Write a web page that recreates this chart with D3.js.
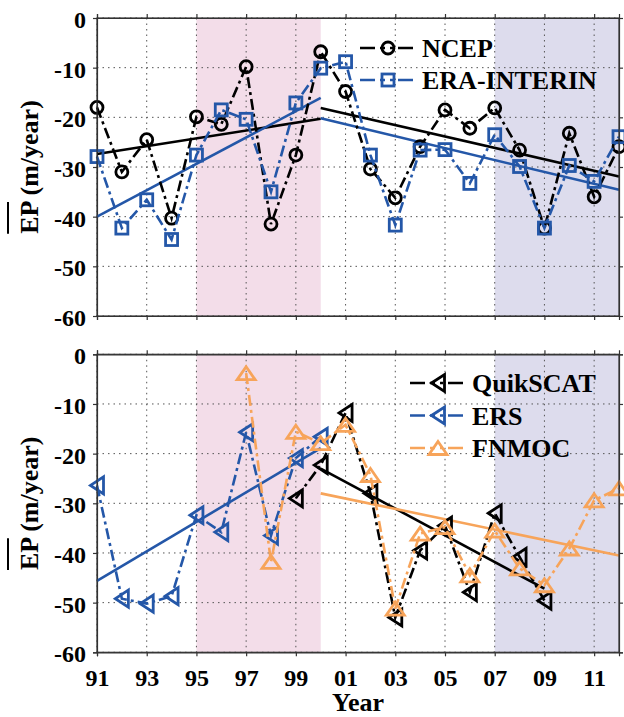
<!DOCTYPE html>
<html>
<head>
<meta charset="utf-8">
<script src="https://cdnjs.cloudflare.com/ajax/libs/d3/7.8.5/d3.min.js"></script>
<style>
  body { margin: 0; background: #fff; }
</style>
</head>
<body>
<div id="chart-area"></div>
<script>
//============================DATA============================
// years for each series
var yearsFull = [1991, 1992, 1993, 1994, 1995, 1996, 1997, 1998, 1999, 2000, 2001,
                 2002, 2003, 2004, 2005, 2006, 2007, 2008, 2009, 2010, 2011, 2012];
var yearsErs = [1991, 1992, 1993, 1994, 1995, 1996, 1997, 1998, 1999, 2000];
var yearsQuik = [1999, 2000, 2001, 2002, 2003, 2004, 2005, 2006, 2007, 2008, 2009];
var yearsFnmoc = [1997, 1998, 1999, 2000, 2001, 2002, 2003, 2004, 2005, 2006, 2007,
                  2008, 2009, 2010, 2011, 2012];

// top panel
var ncep = [-18, -31, -24.5, -40.3, -19.9, -21.4, -9.8, -41.5, -27.6, -6.8, -14.8,
            -30.4, -36.2, -25.9, -18.5, -22.2, -18.1, -26.6, -42.3, -23.2, -36, -25.9];
var era = [-27.9, -42.3, -36.6, -44.6, -27.6, -18.5, -20.4, -35, -17.1, -10.1, -8.8,
           -27.6, -41.7, -26.6, -26.5, -33.3, -23.5, -29.9, -42.3, -29.7, -32.9, -23.9];

// bottom panel
var ers = [-26.4, -49.2, -50.2, -48.7, -32.4, -35.8, -15.7, -36.5, -20.9, -16.6];
var quikscat = [-29, -22.3, -11.8, -28, -53, -39.5, -34.5, -47.9, -32, -40.8, -49.6];
var fnmoc = [-3.8, -41.8, -15.6, -17.9, -14.2, -24.3, -51.2, -36.1, -34.8, -44.5, -35.5,
             -43.1, -46.5, -39.1, -29.4, -27];

// linear trend end points
var ncepTrendA = [[1991, -27.4], [2000, -20.3]];
var ncepTrendB = [[2000, -18.1], [2012, -31.9]];
var eraTrendA = [[1991, -40], [2000, -16.1]];
var eraTrendB = [[2000, -20.2], [2012, -34.6]];
var ersTrend = [[1991, -45.6], [2000, -18.9]];
var quikTrend = [[2000, -23], [2009, -47.2]];
var fnmocTrend = [[2000, -28], [2012, -40.5]];

// shaded periods
var periods = [[1995, 2000], [2007, 2012]];

// ticks
var xTicks = [1991, 1993, 1995, 1997, 1999, 2001, 2003, 2005, 2007, 2009, 2011];
var xTickLabels = ["91", "93", "95", "97", "99", "01", "03", "05", "07", "09", "11"];
var yTicks = [0, -10, -20, -30, -40, -50, -60];

//============================GLOBALS============================
var W = 624, H = 717;
var margins = { left: 97, right: 5 };
var width = 619 - margins.left;
var panelTop = [18, 354.3];
var panelHeight = 298;
var FONT = "'Liberation Serif', 'Times New Roman', serif";

var BLACK = "#000000", BLUE = "#2457a8", ORANGE = "#f7a45a";
var shadeColors = ["#f3dde9", "#dddced"];
var dashDot = "11,4,3,4";

var svg = d3.select("#chart-area")
    .append("svg")
    .attr("width", W)
    .attr("height", H);

var x = d3.scaleLinear().domain([1991, 2012]).range([margins.left, margins.left + width]);

// marker shapes
function drawMarker(sel, type, color) {
    if (type === "circle") {
        sel.append("circle").attr("r", 6);
    } else if (type === "square") {
        sel.append("rect").attr("x", -6).attr("y", -6).attr("width", 12).attr("height", 12);
    } else if (type === "left") {
        sel.append("path").attr("d", "M-6.5,0L6.5,-8.5L6.5,8.5Z");
    } else if (type === "up") {
        sel.append("path").attr("d", "M0,-6.5L9,6.5L-9,6.5Z");
    }
    sel.selectAll("*")
        .attr("fill", "none")
        .attr("stroke", color)
        .attr("stroke-width", 2.8)
        .attr("stroke-linejoin", "miter");
}

function drawPanel(top, series, trends, legend, showXLabels) {
    var y = d3.scaleLinear().domain([-60, 0]).range([top + panelHeight, top]);
    var g = svg.append("g");

    // shaded periods
    g.selectAll(".shade")
        .data(periods)
        .enter().append("rect")
        .attr("x", function(d) { return x(d[0]); })
        .attr("width", function(d) { return x(d[1]) - x(d[0]); })
        .attr("y", y(0))
        .attr("height", y(-60) - y(0))
        .attr("fill", function(d, i) { return shadeColors[i]; });

    // dotted grid
    var grid = g.append("g").attr("class", "grid");
    grid.selectAll(".gx")
        .data(xTicks)
        .enter().append("line")
        .attr("x1", function(d) { return x(d); })
        .attr("x2", function(d) { return x(d); })
        .attr("y1", y(0)).attr("y2", y(-60));
    grid.selectAll(".gy")
        .data(yTicks)
        .enter().append("line")
        .attr("x1", x(1991)).attr("x2", x(2012))
        .attr("y1", function(d) { return y(d); })
        .attr("y2", function(d) { return y(d); });
    grid.selectAll("line")
        .attr("stroke", "#555")
        .attr("stroke-width", 1)
        .attr("stroke-dasharray", "1.5,4");

    // axes (outward ticks on all four sides)
    var axL = g.append("g").attr("transform", "translate(" + x(1991) + ",0)")
        .call(d3.axisLeft(y).tickValues(yTicks).tickSize(4).tickPadding(7)
              .tickFormat(function(d) { return String(d); }));
    axL.selectAll("text").attr("font-size", "24px").attr("dy", "0.4em").attr("fill", "#000");

    g.append("g").attr("transform", "translate(" + x(2012) + ",0)")
        .call(d3.axisRight(y).tickValues(yTicks).tickSize(4).tickFormat(""));
    g.append("g").attr("transform", "translate(0," + y(0) + ")")
        .call(d3.axisTop(x).tickValues(xTicks).tickSize(4).tickFormat(""));
    var axB = g.append("g").attr("transform", "translate(0," + y(-60) + ")")
        .call(d3.axisBottom(x).tickValues(xTicks).tickSize(4).tickPadding(13)
              .tickFormat(function(d, i) { return showXLabels ? xTickLabels[i] : ""; }));
    axB.selectAll("text").attr("font-size", "24px").attr("fill", "#000");
    g.selectAll(".domain").attr("stroke", "#333").attr("stroke-width", 1.2);
    g.selectAll(".tick line").attr("stroke", "#333").attr("stroke-width", 1.2);

    // trend lines
    var line = d3.line()
        .x(function(d) { return x(d[0]); })
        .y(function(d) { return y(d[1]); });
    trends.forEach(function(t) {
        g.append("path")
            .datum(t.pts)
            .attr("fill", "none")
            .attr("stroke", t.color)
            .attr("stroke-width", 2.6)
            .attr("d", line);
    });

    // data series
    series.forEach(function(s) {
        var pts = s.years.map(function(yr, i) { return [yr, s.values[i]]; });
        g.append("path")
            .datum(pts)
            .attr("fill", "none")
            .attr("stroke", s.color)
            .attr("stroke-width", 2.6)
            .attr("stroke-dasharray", dashDot)
            .attr("d", line);
        g.selectAll(null)
            .data(pts)
            .enter().append("g")
            .attr("transform", function(d) { return "translate(" + x(d[0]) + "," + y(d[1]) + ")"; })
            .each(function() { drawMarker(d3.select(this), s.marker, s.color); });
    });

    // legend
    series.forEach(function(s, i) {
        var ly = legend.y + i * legend.dy;
        var lg = g.append("g");
        lg.append("line")
            .attr("x1", legend.x).attr("x2", legend.x + 57)
            .attr("y1", ly).attr("y2", ly)
            .attr("stroke", s.color)
            .attr("stroke-width", 2.6)
            .attr("stroke-dasharray", "15,5,5,5,3,5");
        drawMarker(lg.append("g").attr("transform", "translate(" + (legend.x + 28) + "," + ly + ")"),
                   s.marker, s.color);
        lg.append("text")
            .attr("x", legend.x + 62)
            .attr("y", ly + 9)
            .attr("font-size", "26px")
            .attr("fill", "#000")
            .text(s.name);
    });

    // frame
    g.append("rect")
        .attr("x", x(1991)).attr("y", y(0))
        .attr("width", x(2012) - x(1991)).attr("height", y(-60) - y(0))
        .attr("fill", "none").attr("stroke", "#333").attr("stroke-width", 1.2);

    // y label with overbar on EP
    var cy = (y(0) + y(-60)) / 2;
    var lab = g.append("text")
        .attr("transform", "translate(38," + cy + ") rotate(-90)")
        .attr("text-anchor", "middle")
        .attr("font-size", "26px")
        .attr("fill", "#000")
        .style("font-family", FONT)
        .style("font-weight", "bold")
        .text("EP (m/year)");
    var total = lab.node().getComputedTextLength();
    var epLen = lab.node().getSubStringLength(0, 2);
    g.append("line")
        .attr("x1", 8).attr("x2", 8)
        .attr("y1", cy + total / 2).attr("y2", cy + total / 2 - epLen)
        .attr("stroke", "#000").attr("stroke-width", 2);
}

drawPanel(panelTop[0],
    [
        { name: "NCEP", years: yearsFull, values: ncep, color: BLACK, marker: "circle" },
        { name: "ERA-INTERIN", years: yearsFull, values: era, color: BLUE, marker: "square" }
    ],
    [
        { pts: ncepTrendA, color: BLACK }, { pts: ncepTrendB, color: BLACK },
        { pts: eraTrendA, color: BLUE }, { pts: eraTrendB, color: BLUE }
    ],
    { x: 360, y: 48, dy: 32 }, false);

drawPanel(panelTop[1],
    [
        { name: "QuikSCAT", years: yearsQuik, values: quikscat, color: BLACK, marker: "left" },
        { name: "ERS", years: yearsErs, values: ers, color: BLUE, marker: "left" },
        { name: "FNMOC", years: yearsFnmoc, values: fnmoc, color: ORANGE, marker: "up" }
    ],
    [
        { pts: ersTrend, color: BLUE },
        { pts: quikTrend, color: BLACK },
        { pts: fnmocTrend, color: ORANGE }
    ],
    { x: 410, y: 383, dy: 32.5 }, true);

// x axis title
svg.append("text")
    .attr("x", x(2001.5))
    .attr("y", 711)
    .attr("text-anchor", "middle")
    .attr("font-size", "26px")
    .attr("fill", "#000")
    .text("Year");

// serif bold for every text (inline style so it wins over the axis defaults)
svg.selectAll("text")
    .style("font-family", FONT)
    .style("font-weight", "bold");
</script>
</body>
</html>
